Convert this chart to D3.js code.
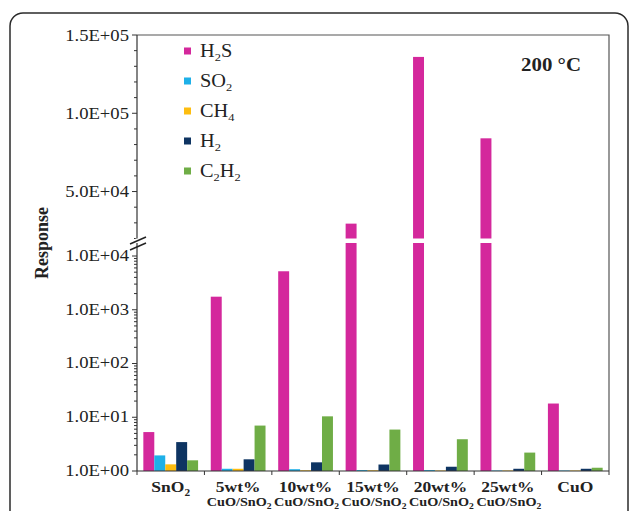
<!DOCTYPE html>
<html><head><meta charset="utf-8">
<script src="https://cdn.jsdelivr.net/npm/d3@7"></script>
<style>html,body{margin:0;padding:0;background:#fff;}svg{display:block;}</style>
</head><body><svg id="c" width="629" height="511"></svg>
<script>
const categories = ["SnO2", "5wt%", "10wt%", "15wt%", "20wt%", "25wt%", "CuO"];
const seriesNames = ["H2S", "SO2", "CH4", "H2", "C2H2"];
const seriesColors = ["#d4289c", "#1eb0e8", "#fdbd10", "#0e3462", "#6fad46"];
const H2S  = [5.3, 1750, 5200, 29500, 136000, 84000, 18];
const SO2  = [1.95, 1.1, 1.08, 1.04, 1.04, 1.02, 1.02];
const CH4  = [1.33, 1.1, 1.03, 1.03, 1.02, 1.02, 1.02];
const H2   = [3.45, 1.65, 1.45, 1.32, 1.2, 1.1, 1.1];
const C2H2 = [1.58, 7.0, 10.4, 5.9, 3.9, 2.2, 1.15];
const lowerTicks = [1, 10, 100, 1000, 10000];
const lowerTickLabels = ["1.0E+00", "1.0E+01", "1.0E+02", "1.0E+03", "1.0E+04"];
const upperTicks = [50000, 100000, 150000];
const upperTickLabels = ["5.0E+04", "1.0E+05", "1.5E+05"];
const xLine1 = ["SnO", "5wt%", "10wt%", "15wt%", "20wt%", "25wt%", "CuO"];
const seriesData = [H2S, SO2, CH4, H2, C2H2];

const svg = d3.select("#c");
const font = "'Liberation Serif','Times New Roman',serif";
const SX = 1.13;
const L = 137, R = 609, T = 35, B = 471;
const lowTop = 243, upBot = 238.5;
const lowMax = Math.pow(10, (B - lowTop) / 53.75);

function txt(parent, xx, yy) {
  return parent.append("text").attr("transform", `translate(${xx},${yy}) scale(${SX},1)`)
    .attr("font-family", font).attr("fill", "#222");
}

// outer rounded frame
svg.append("rect").attr("x", 10).attr("y", 13).attr("width", 618).attr("height", 520)
  .attr("rx", 13).attr("fill", "none").attr("stroke", "#2b2b2b").attr("stroke-width", 1.5);

const x = d3.scaleBand().domain(categories).range([L, R]).padding(0);
const bw = x.bandwidth();
const xs = d3.scaleBand().domain(seriesNames).range([bw * 0.094, bw * 0.906]).padding(0);
const yLow = d3.scaleLog().domain([1, lowMax]).range([B, lowTop]);
const yUp = d3.scaleLinear().domain([20000, 150000]).range([upBot, T]);

// bars
const bars = [];
categories.forEach((c, i) => {
  seriesNames.forEach((s, j) => {
    const v = seriesData[j][i];
    const x0 = x(c) + xs(s);
    const col = seriesColors[j];
    if (v <= lowMax) {
      bars.push({x: x0, y: yLow(v), h: B - yLow(v), col});
    } else {
      bars.push({x: x0, y: lowTop, h: B - lowTop, col});
      bars.push({x: x0, y: yUp(v), h: upBot - yUp(v), col});
    }
  });
});
svg.append("g").selectAll("rect").data(bars).join("rect")
  .attr("x", d => d.x).attr("y", d => d.y).attr("width", xs.bandwidth()).attr("height", d => Math.max(0, d.h))
  .attr("fill", d => d.col);

// frame top and right
svg.append("path").attr("d", `M${L},${T}H${R}V${B}`).attr("fill", "none").attr("stroke", "#555").attr("stroke-width", 1.2);

// left axis line
svg.append("line").attr("x1", L).attr("x2", L).attr("y1", T).attr("y2", B).attr("stroke", "#333").attr("stroke-width", 1.2);

// axis ticks
const lowerMinor = [];
for (let d = 1; d <= 10000; d *= 10) for (let k = 2; k <= 9; k++) { const v = d * k; if (v < lowMax) lowerMinor.push(v); }
const gTicks = svg.append("g").attr("stroke", "#333").attr("stroke-width", 1);
lowerMinor.forEach(v => gTicks.append("line").attr("x1", L - 3).attr("x2", L).attr("y1", yLow(v)).attr("y2", yLow(v)));
lowerTicks.forEach(v => gTicks.append("line").attr("x1", L - 5).attr("x2", L).attr("y1", yLow(v)).attr("y2", yLow(v)));
const upperMinor = d3.range(20000, 150001, 10000).filter(v => v % 50000 !== 0);
upperMinor.forEach(v => gTicks.append("line").attr("x1", L - 3).attr("x2", L).attr("y1", yUp(v)).attr("y2", yUp(v)));
upperTicks.forEach(v => gTicks.append("line").attr("x1", L - 5).attr("x2", L).attr("y1", yUp(v)).attr("y2", yUp(v)));

const tickFont = 16.5;
lowerTicks.forEach((v, i) => txt(svg, 129, yLow(v) - 1).attr("dy", "0.35em")
  .attr("text-anchor", "end").attr("font-size", tickFont).text(lowerTickLabels[i]));
upperTicks.forEach((v, i) => txt(svg, 129, yUp(v)).attr("dy", "0.35em")
  .attr("text-anchor", "end").attr("font-size", tickFont).text(upperTickLabels[i]));

// break symbol
const bk = svg.append("g").attr("stroke", "#222").attr("stroke-width", 1.5);
bk.append("rect").attr("x", L - 1.5).attr("y", upBot).attr("width", 3).attr("height", lowTop - upBot).attr("fill", "#fff").attr("stroke", "none");
bk.append("line").attr("x1", 130).attr("y1", 244).attr("x2", 146).attr("y2", 237);
bk.append("line").attr("x1", 130).attr("y1", 250).attr("x2", 146).attr("y2", 243);

// x axis
svg.append("line").attr("x1", L).attr("x2", R).attr("y1", B).attr("y2", B).attr("stroke", "#333").attr("stroke-width", 1.2);
const xt = categories.map(c => x(c)).concat([R]);
xt.forEach(xx => svg.append("line").attr("x1", xx).attr("x2", xx).attr("y1", B).attr("y2", B + 4).attr("stroke", "#333"));

// x labels
const xlab = svg.append("g").attr("font-weight", "bold");
categories.forEach((c, i) => {
  const cx = x(c) + bw / 2;
  const t = txt(xlab, cx, 492).attr("text-anchor", "middle").attr("font-size", 15.5).attr("font-weight", "bold");
  t.append("tspan").text(xLine1[i]);
  if (i === 0) t.append("tspan").attr("font-size", 10).attr("dy", 4).text("2");
  if (i > 0 && i < 6) {
    const t2 = txt(xlab, cx + 1, 506).attr("text-anchor", "middle").attr("font-size", 12.6).attr("font-weight", "bold");
    t2.append("tspan").text("CuO/SnO");
    t2.append("tspan").attr("font-size", 8.5).attr("dy", 2.5).text("2");
  }
});

// y label
svg.append("text").attr("transform", "translate(48,243) rotate(-90) scale(1,1.08)").attr("text-anchor", "middle")
  .attr("font-family", font).attr("font-weight", "bold").attr("font-size", 18).attr("fill", "#222").text("Response");

// temperature label
txt(svg, 551, 71).attr("text-anchor", "middle").attr("font-weight", "bold").attr("font-size", 18.5).text("200 °C");

// legend
const legParts = [[["H",0],["2",1],["S",0]], [["SO",0],["2",1]], [["CH",0],["4",1]], [["H",0],["2",1]], [["C",0],["2",1],["H",0],["2",1]]];
const lg = svg.append("g");
seriesNames.forEach((s, i) => {
  const yy = 51 + i * 30;
  lg.append("rect").attr("x", 184).attr("y", yy - 3.5).attr("width", 7).attr("height", 7).attr("fill", seriesColors[i]);
  const t = txt(lg, 200, yy + 6).attr("font-size", 18);
  let shifted = false;
  legParts[i].forEach(([str, sub]) => {
    const ts = t.append("tspan").text(str);
    if (sub) { ts.attr("font-size", 11).attr("dy", 4); shifted = true; }
    else if (shifted) { ts.attr("dy", -4); shifted = false; }
  });
});
</script></body></html>
